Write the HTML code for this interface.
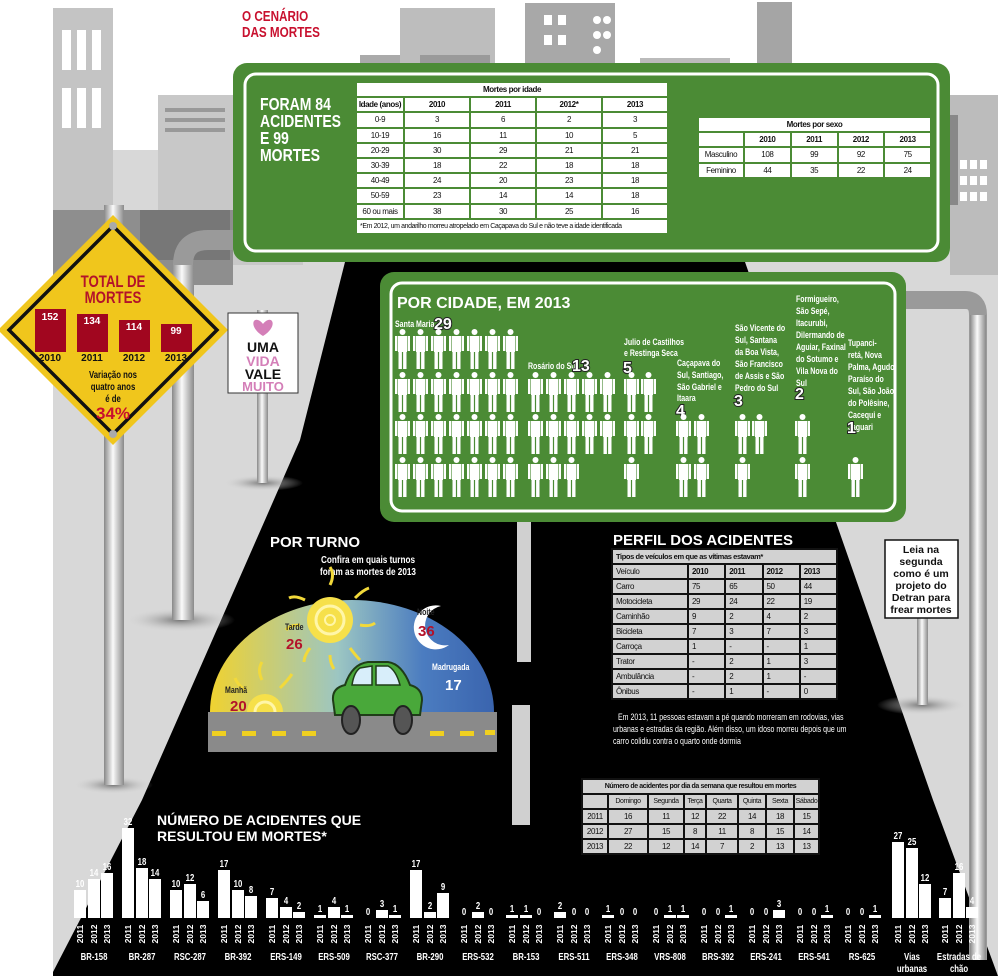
<!DOCTYPE html>
<html><head><meta charset="utf-8">
<style>
*{margin:0;padding:0;box-sizing:border-box}
body{width:1000px;height:976px;overflow:hidden;background:#fff;position:relative;font-family:"Liberation Sans",sans-serif}
svg{position:absolute;left:0;top:0}
.n text,text.n{transform-box:fill-box;transform-origin:left center;transform:scaleX(.78)}
.nc text,text.nc{transform-box:fill-box;transform-origin:center center;transform:scaleX(.78)}
.t{position:absolute;border-collapse:separate;table-layout:fixed;font-size:8px;letter-spacing:-0.4px;text-align:center;color:#111}
.t td{height:13px;line-height:11px;padding:0;overflow:hidden;white-space:nowrap}
.g{background:#4b8b35;border-spacing:2px}
.g td{background:#fff;height:13.2px}
.k{background:#111;border-spacing:2px}
.k td{background:#d2d2d2}
.b{font-weight:bold}
.L{text-align:left;padding-left:3px!important}
</style></head><body>
<svg width="1000" height="976" viewBox="0 0 1000 976" font-family="Liberation Sans, sans-serif">
<defs>
<linearGradient id="sky" x1="0" x2="1" y1="0" y2="0">
<stop offset="0" stop-color="#f0d230"/><stop offset="0.45" stop-color="#9cc6c2"/><stop offset="0.75" stop-color="#4b7cc0"/><stop offset="1" stop-color="#3a64ae"/></linearGradient>
<linearGradient id="pole" x1="0" x2="1"><stop offset="0" stop-color="#888"/><stop offset="0.45" stop-color="#fafafa"/><stop offset="1" stop-color="#8a8a8a"/></linearGradient>
<radialGradient id="sh"><stop offset="0" stop-color="#777"/><stop offset="1" stop-color="#d8d8d8" stop-opacity="0"/></radialGradient>
<g id="p" fill="#fff"><circle cx="7.5" cy="3" r="3"/><rect x="3" y="7" width="9" height="16"/><rect x="0" y="7" width="2.4" height="15"/><rect x="12.6" y="7" width="2.4" height="15"/><rect x="3.5" y="23" width="3.4" height="17"/><rect x="8.1" y="23" width="3.4" height="17"/></g>
</defs>
<rect x="53" y="150" width="945" height="826" fill="#d8d8d8"/>
<rect x="53" y="8" width="60" height="250" fill="#c4c4c4"/>
<g fill="#fff"><rect x="62" y="30" width="9" height="40"/><rect x="77" y="30" width="9" height="40"/><rect x="92" y="30" width="9" height="40"/><rect x="62" y="88" width="9" height="40"/><rect x="77" y="88" width="9" height="40"/><rect x="92" y="88" width="9" height="40"/></g>
<rect x="158" y="95" width="145" height="170" fill="#c8c8c8"/>
<g fill="#999"><rect x="165" y="108" width="60" height="4"/><rect x="165" y="118" width="60" height="4"/><rect x="165" y="128" width="60" height="4"/><rect x="248" y="108" width="50" height="4"/><rect x="248" y="118" width="50" height="4"/></g>
<rect x="53" y="210" width="180" height="75" fill="#8e8e8e"/>
<rect x="140" y="210" width="90" height="50" fill="#777"/>
<rect x="360" y="55" width="90" height="20" fill="#aaa"/>
<rect x="400" y="8" width="95" height="60" fill="#bdbdbd"/>
<rect x="420" y="55" width="70" height="15" fill="#9a9a9a"/>
<rect x="525" y="3" width="90" height="62" fill="#a8a8a8"/>
<g fill="#fff"><rect x="544" y="15" width="8" height="10"/><rect x="558" y="15" width="8" height="10"/><rect x="544" y="35" width="8" height="10"/><rect x="558" y="35" width="8" height="10"/><circle cx="597" cy="20" r="4"/><circle cx="607" cy="20" r="4"/><circle cx="597" cy="35" r="4"/><circle cx="607" cy="35" r="4"/><circle cx="597" cy="50" r="4"/></g>
<rect x="640" y="58" width="90" height="10" fill="#bbb"/>
<rect x="757" y="2" width="35" height="65" fill="#a5a5a5"/>
<rect x="810" y="95" width="60" height="10" fill="#c2c2c2"/>
<rect x="950" y="95" width="48" height="180" fill="#bcbcbc"/>
<rect x="940" y="115" width="18" height="90" fill="#888"/>
<g fill="#fff"><rect x="960" y="160" width="7" height="9"/><rect x="970" y="160" width="7" height="9"/><rect x="980" y="160" width="7" height="9"/><rect x="960" y="176" width="7" height="9"/><rect x="970" y="176" width="7" height="9"/><rect x="980" y="176" width="7" height="9"/><rect x="960" y="192" width="7" height="9"/><rect x="970" y="192" width="7" height="9"/><rect x="980" y="192" width="7" height="9"/></g>
<polygon points="345,262 745,262 837,525 933,800 998,976 53,976 53,972 142,800 265,520 300,440" fill="#000"/>
<rect x="517" y="522" width="14" height="140" fill="#d0d0d0"/>
<rect x="512" y="705" width="18" height="120" fill="#d0d0d0"/>
<ellipse cx="113" cy="785" rx="40" ry="9" fill="url(#sh)"/>
<rect x="104" y="205" width="20" height="580" fill="url(#pole)"/>
<ellipse cx="180" cy="620" rx="55" ry="12" fill="url(#sh)"/>
<path d="M183 620 V265 Q183 240 208 240 H240" fill="none" stroke="#9a9a9a" stroke-width="20"/>
<rect x="172" y="265" width="22" height="355" fill="url(#pole)"/>
<ellipse cx="263" cy="483" rx="40" ry="8" fill="url(#sh)"/>
<rect x="257" y="310" width="11" height="173" fill="url(#pole)"/>
<path d="M906 300 H965 Q978 300 978 315 V960" fill="none" stroke="#9a9a9a" stroke-width="18"/>
<rect x="970" y="315" width="16" height="645" fill="url(#pole)"/>
<ellipse cx="922" cy="705" rx="45" ry="10" fill="url(#sh)"/>
<rect x="917" y="540" width="11" height="165" fill="url(#pole)"/>
<rect x="233" y="63" width="717" height="199" rx="14" fill="#4b8b35"/>
<rect x="245" y="74" width="693" height="177" rx="11" fill="none" stroke="#fff" stroke-width="3"/>
<g class="n" fill="#fff" font-weight="bold" font-size="18"><text x="260" y="110">FORAM 84</text><text x="260" y="127">ACIDENTES</text><text x="260" y="144">E 99</text><text x="260" y="161">MORTES</text></g>
<rect x="380" y="272" width="526" height="250" rx="14" fill="#4b8b35"/>
<rect x="391" y="283" width="504" height="228" rx="11" fill="none" stroke="#fff" stroke-width="3"/>
<text x="397" y="308" fill="#fff" font-weight="bold" font-size="16">POR CIDADE, EM 2013</text>
<g class="n" fill="#fff" font-size="9" font-weight="bold">
<text x="395" y="327">Santa Maria</text>
<text x="528" y="369">Rosário do Sul</text>
<text x="624" y="345">Julio de Castilhos</text><text x="624" y="356">e Restinga Seca</text>
<text x="677" y="366">Caçapava do</text><text x="677" y="378">Sul, Santiago,</text><text x="677" y="390">São Gabriel e</text><text x="677" y="401">Itaara</text>
<text x="735" y="331">São Vicente do</text><text x="735" y="343">Sul, Santana</text><text x="735" y="355">da Boa Vista,</text><text x="735" y="367">São Francisco</text><text x="735" y="379">de Assis e São</text><text x="735" y="391">Pedro do Sul</text>
<text x="796" y="302">Formigueiro,</text><text x="796" y="314">São Sepé,</text><text x="796" y="326">Itacurubi,</text><text x="796" y="338">Dilermando de</text><text x="796" y="350">Aguiar, Faxinal</text><text x="796" y="362">do Sotumo e</text><text x="796" y="374">Vila Nova do</text><text x="796" y="386">Sul</text>
<text x="848" y="346">Tupanci-</text><text x="848" y="358">retá, Nova</text><text x="848" y="370">Palma, Agudo,</text><text x="848" y="382">Paraíso do</text><text x="848" y="394">Sul, São João</text><text x="848" y="406">do Polêsine,</text><text x="848" y="418">Cacequi e</text><text x="848" y="430">Jaguari</text>
</g>
<g fill="#fff" stroke="#222" stroke-width="2" paint-order="stroke" font-weight="bold" font-size="16">
<text x="434" y="329">29</text><text x="572" y="371">13</text><text x="623" y="373">5</text><text x="676" y="416">4</text><text x="734" y="406">3</text><text x="795" y="399">2</text><text x="847" y="433">1</text>
</g>
<g>
<use href="#p" x="395" y="329"/><use href="#p" x="413" y="329"/><use href="#p" x="431" y="329"/><use href="#p" x="449" y="329"/><use href="#p" x="467" y="329"/><use href="#p" x="485" y="329"/><use href="#p" x="503" y="329"/>
<use href="#p" x="395" y="372"/><use href="#p" x="413" y="372"/><use href="#p" x="431" y="372"/><use href="#p" x="449" y="372"/><use href="#p" x="467" y="372"/><use href="#p" x="485" y="372"/><use href="#p" x="503" y="372"/>
<use href="#p" x="395" y="414"/><use href="#p" x="413" y="414"/><use href="#p" x="431" y="414"/><use href="#p" x="449" y="414"/><use href="#p" x="467" y="414"/><use href="#p" x="485" y="414"/><use href="#p" x="503" y="414"/>
<use href="#p" x="395" y="457"/><use href="#p" x="413" y="457"/><use href="#p" x="431" y="457"/><use href="#p" x="449" y="457"/><use href="#p" x="467" y="457"/><use href="#p" x="485" y="457"/><use href="#p" x="503" y="457"/>
<use href="#p" x="528" y="372"/><use href="#p" x="546" y="372"/><use href="#p" x="564" y="372"/><use href="#p" x="582" y="372"/><use href="#p" x="600" y="372"/>
<use href="#p" x="528" y="414"/><use href="#p" x="546" y="414"/><use href="#p" x="564" y="414"/><use href="#p" x="582" y="414"/><use href="#p" x="600" y="414"/>
<use href="#p" x="528" y="457"/><use href="#p" x="546" y="457"/><use href="#p" x="564" y="457"/>
<use href="#p" x="624" y="372"/><use href="#p" x="641" y="372"/><use href="#p" x="624" y="414"/><use href="#p" x="641" y="414"/><use href="#p" x="624" y="457"/>
<use href="#p" x="676" y="414"/><use href="#p" x="694" y="414"/><use href="#p" x="676" y="457"/><use href="#p" x="694" y="457"/>
<use href="#p" x="735" y="414"/><use href="#p" x="752" y="414"/><use href="#p" x="735" y="457"/>
<use href="#p" x="795" y="414"/><use href="#p" x="795" y="457"/>
<use href="#p" x="848" y="457"/>
</g>
<g class="n" fill="#c8102e" font-weight="bold" font-size="15"><text x="242" y="21">O CENÁRIO</text><text x="242" y="37">DAS MORTES</text></g>
<polygon points="113,215 228,330 113,445 -2,330" fill="#f0c61c"/>
<polygon points="113,226 217,330 113,434 9,330" fill="none" stroke="#111" stroke-width="3.5"/>
<circle cx="113" cy="226" r="4" fill="#aaa"/><circle cx="113" cy="434" r="4" fill="#aaa"/>
<g class="nc" fill="#b3122a" font-weight="bold" font-size="17" text-anchor="middle"><text x="113" y="287">TOTAL DE</text><text x="113" y="303">MORTES</text></g>
<g fill="#a1061f"><rect x="35" y="309" width="31" height="43"/><rect x="77" y="314" width="31" height="38"/><rect x="119" y="320" width="31" height="32"/><rect x="161" y="324" width="31" height="28"/></g>
<g fill="#fff" font-size="10" font-weight="bold" text-anchor="middle"><text x="50" y="320">152</text><text x="92" y="324">134</text><text x="134" y="330">114</text><text x="176" y="334">99</text></g>
<g fill="#111" font-size="10" font-weight="bold" text-anchor="middle"><text x="50" y="361">2010</text><text x="92" y="361">2011</text><text x="134" y="361">2012</text><text x="176" y="361">2013</text></g>
<g class="nc" fill="#111" font-size="10" font-weight="bold" text-anchor="middle"><text x="113" y="378">Variação nos</text><text x="113" y="390">quatro anos</text><text x="113" y="402">é de</text></g>
<text x="113" y="419" text-anchor="middle" fill="#c8102e" font-weight="bold" font-size="17">34%</text>
<rect x="228" y="313" width="70" height="80" fill="#fff" stroke="#333" stroke-width="1"/>
<path d="M263 336 C250 328 252 318 258 320 C261 321 263 324 263 324 C263 324 265 321 268 320 C274 318 276 328 263 336Z" fill="#d47fb8"/>
<g font-weight="900" font-size="14" text-anchor="middle"><text x="263" y="352" fill="#111">UMA</text><text x="263" y="366" fill="#d47fb8">VIDA</text><text x="263" y="379" fill="#111">VALE</text><text x="263" y="391" fill="#d47fb8" font-size="13">MUITO</text></g>
<rect x="885" y="540" width="73" height="78" fill="#fff" stroke="#111" stroke-width="1.5"/>
<g font-weight="bold" font-size="10.5" text-anchor="middle" fill="#111"><text x="921" y="553">Leia na</text><text x="921" y="565">segunda</text><text x="921" y="577">como é um</text><text x="921" y="589">projeto do</text><text x="921" y="601">Detran para</text><text x="921" y="613">frear mortes</text></g>
<text x="270" y="547" fill="#fff" font-weight="bold" font-size="15">POR TURNO</text>
<g class="nc" fill="#fff" font-size="10.5" font-weight="bold" text-anchor="middle"><text x="368" y="563">Confira em quais turnos</text><text x="368" y="575">foram as mortes de 2013</text></g>
<path d="M210 712 A142 112 0 0 1 494 712 Z" fill="url(#sky)"/>
<g stroke="#f2d93a" stroke-width="3" fill="none"><path d="M330 585 q5 -10 0 -18"/><path d="M305 600 q-10 -5 -16 -2"/><path d="M355 598 q8 -8 14 -10"/><path d="M300 625 q-10 0 -14 5"/><path d="M360 625 q10 2 15 -2"/><path d="M310 648 q-6 8 -6 14"/><path d="M350 648 q6 8 10 12"/><path d="M330 655 q0 8 4 14"/></g>
<circle cx="330" cy="620" r="23" fill="#f6e04a"/><circle cx="330" cy="620" r="14" fill="none" stroke="#fff6a8" stroke-width="3"/><circle cx="330" cy="620" r="5" fill="none" stroke="#fff6a8" stroke-width="2"/>
<g stroke="#f2d93a" stroke-width="3" fill="none"><path d="M262 680 q-5 -10 0 -18"/><path d="M280 688 q8 -8 12 -14"/><path d="M245 690 q-8 -6 -10 -12"/></g>
<circle cx="265" cy="712" r="18" fill="#f6e04a"/><circle cx="265" cy="712" r="10" fill="none" stroke="#fff6a8" stroke-width="3"/>
<path d="M441 606 A22 22 0 1 0 449 645 A18 18 0 1 1 441 606Z" fill="#fff"/>
<path d="M485 680 A16 16 0 1 0 488 712 A13 13 0 1 1 485 680Z" fill="#fff"/>
<rect x="208" y="712" width="289" height="40" fill="#8a8a8a"/>
<g fill="#f0d020"><rect x="212" y="731" width="14" height="5"/><rect x="242" y="731" width="14" height="5"/><rect x="272" y="731" width="14" height="5"/><rect x="302" y="731" width="14" height="5"/><rect x="430" y="731" width="14" height="5"/><rect x="460" y="731" width="14" height="5"/><rect x="485" y="730" width="10" height="5"/></g>
<path d="M333 700 Q332 688 345 685 Q352 664 368 662 L388 662 Q402 664 410 685 Q422 688 422 700 L420 715 L335 715Z" fill="#49a83a" stroke="#1f3d18" stroke-width="2"/>
<path d="M360 668 L372 666 L372 685 L352 685 Q354 672 360 668Z" fill="#d8eefa" stroke="#1f3d18" stroke-width="1.5"/>
<path d="M376 666 L388 666 Q396 670 400 685 L376 685Z" fill="#d8eefa" stroke="#1f3d18" stroke-width="1.5"/>
<ellipse cx="351" cy="720" rx="9" ry="14" fill="#555" stroke="#222" stroke-width="2"/><ellipse cx="403" cy="720" rx="9" ry="14" fill="#555" stroke="#222" stroke-width="2"/>
<g font-weight="bold">
<text class="n" x="285" y="630" fill="#222" font-size="9">Tarde</text><text x="286" y="649" fill="#b3122a" font-size="15">26</text>
<text class="n" x="417" y="615" fill="#222" font-size="9">Noite</text><text x="418" y="636" fill="#b3122a" font-size="15">36</text>
<text class="n" x="432" y="670" fill="#fff" font-size="9">Madrugada</text><text x="445" y="690" fill="#fff" font-size="15">17</text>
<text class="n" x="225" y="693" fill="#222" font-size="9">Manhã</text><text x="230" y="711" fill="#b3122a" font-size="15">20</text>
</g>
<text x="613" y="545" fill="#fff" font-weight="bold" font-size="15">PERFIL DOS ACIDENTES</text>
<g class="n" fill="#fff" font-size="9"><text x="618" y="720">Em 2013, 11 pessoas estavam a pé quando morreram em rodovias, vias</text><text x="613" y="732">urbanas e estradas da região. Além disso, um idoso morreu depois que um</text><text x="613" y="744">carro colidiu contra o quarto onde dormia</text></g>
<text x="157" y="825" fill="#fff" font-weight="bold" font-size="14">NÚMERO DE ACIDENTES QUE</text>
<text x="157" y="841" fill="#fff" font-weight="bold" font-size="14">RESULTOU EM MORTES*</text>
<g fill="#fff">
<rect x="74" y="890" width="12" height="28"/><rect x="88" y="879" width="12" height="39"/><rect x="101" y="873" width="12" height="45"/>
<rect x="122" y="828" width="12" height="90"/><rect x="136" y="868" width="12" height="50"/><rect x="149" y="879" width="12" height="39"/>
<rect x="170" y="890" width="12" height="28"/><rect x="184" y="884" width="12" height="34"/><rect x="197" y="901" width="12" height="17"/>
<rect x="218" y="870" width="12" height="48"/><rect x="232" y="890" width="12" height="28"/><rect x="245" y="896" width="12" height="22"/>
<rect x="266" y="898" width="12" height="20"/><rect x="280" y="907" width="12" height="11"/><rect x="293" y="912" width="12" height="6"/>
<rect x="314" y="915" width="12" height="3"/><rect x="328" y="907" width="12" height="11"/><rect x="341" y="915" width="12" height="3"/>
<rect x="376" y="910" width="12" height="8"/><rect x="389" y="915" width="12" height="3"/>
<rect x="410" y="870" width="12" height="48"/><rect x="424" y="912" width="12" height="6"/><rect x="437" y="893" width="12" height="25"/>
<rect x="472" y="912" width="12" height="6"/>
<rect x="506" y="915" width="12" height="3"/><rect x="520" y="915" width="12" height="3"/>
<rect x="554" y="912" width="12" height="6"/>
<rect x="602" y="915" width="12" height="3"/>
<rect x="664" y="915" width="12" height="3"/><rect x="677" y="915" width="12" height="3"/>
<rect x="725" y="915" width="12" height="3"/>
<rect x="773" y="910" width="12" height="8"/>
<rect x="821" y="915" width="12" height="3"/>
<rect x="869" y="915" width="12" height="3"/>
<rect x="892" y="842" width="12" height="76"/><rect x="906" y="848" width="12" height="70"/><rect x="919" y="884" width="12" height="34"/>
<rect x="939" y="898" width="12" height="20"/><rect x="953" y="873" width="12" height="45"/><rect x="966" y="907" width="12" height="11"/>
</g>
<g class="nc" fill="#fff" font-size="10" font-weight="bold" text-anchor="middle">
<text x="80" y="887">10</text><text x="94" y="876">14</text><text x="107" y="870">16</text>
<text x="128" y="825">32</text><text x="142" y="865">18</text><text x="155" y="876">14</text>
<text x="176" y="887">10</text><text x="190" y="881">12</text><text x="203" y="898">6</text>
<text x="224" y="867">17</text><text x="238" y="887">10</text><text x="251" y="893">8</text>
<text x="272" y="895">7</text><text x="286" y="904">4</text><text x="299" y="909">2</text>
<text x="320" y="912">1</text><text x="334" y="904">4</text><text x="347" y="912">1</text>
<text x="368" y="915">0</text><text x="382" y="907">3</text><text x="395" y="912">1</text>
<text x="416" y="867">17</text><text x="430" y="909">2</text><text x="443" y="890">9</text>
<text x="464" y="915">0</text><text x="478" y="909">2</text><text x="491" y="915">0</text>
<text x="512" y="912">1</text><text x="526" y="912">1</text><text x="539" y="915">0</text>
<text x="560" y="909">2</text><text x="574" y="915">0</text><text x="587" y="915">0</text>
<text x="608" y="912">1</text><text x="622" y="915">0</text><text x="635" y="915">0</text>
<text x="656" y="915">0</text><text x="670" y="912">1</text><text x="683" y="912">1</text>
<text x="704" y="915">0</text><text x="718" y="915">0</text><text x="731" y="912">1</text>
<text x="752" y="915">0</text><text x="766" y="915">0</text><text x="779" y="907">3</text>
<text x="800" y="915">0</text><text x="814" y="915">0</text><text x="827" y="912">1</text>
<text x="848" y="915">0</text><text x="862" y="915">0</text><text x="875" y="912">1</text>
<text x="898" y="839">27</text><text x="912" y="845">25</text><text x="925" y="881">12</text>
<text x="945" y="895">7</text><text x="959" y="870">16</text><text x="972" y="904">4</text>
</g>
<g fill="#fff" font-size="8.5" font-weight="bold" text-anchor="middle">
<text transform="translate(83,934) rotate(-90)">2011</text><text transform="translate(97,934) rotate(-90)">2012</text><text transform="translate(110,934) rotate(-90)">2013</text>
<text transform="translate(131,934) rotate(-90)">2011</text><text transform="translate(145,934) rotate(-90)">2012</text><text transform="translate(158,934) rotate(-90)">2013</text>
<text transform="translate(179,934) rotate(-90)">2011</text><text transform="translate(193,934) rotate(-90)">2012</text><text transform="translate(206,934) rotate(-90)">2013</text>
<text transform="translate(227,934) rotate(-90)">2011</text><text transform="translate(241,934) rotate(-90)">2012</text><text transform="translate(254,934) rotate(-90)">2013</text>
<text transform="translate(275,934) rotate(-90)">2011</text><text transform="translate(289,934) rotate(-90)">2012</text><text transform="translate(302,934) rotate(-90)">2013</text>
<text transform="translate(323,934) rotate(-90)">2011</text><text transform="translate(337,934) rotate(-90)">2012</text><text transform="translate(350,934) rotate(-90)">2013</text>
<text transform="translate(371,934) rotate(-90)">2011</text><text transform="translate(385,934) rotate(-90)">2012</text><text transform="translate(398,934) rotate(-90)">2013</text>
<text transform="translate(419,934) rotate(-90)">2011</text><text transform="translate(433,934) rotate(-90)">2012</text><text transform="translate(446,934) rotate(-90)">2013</text>
<text transform="translate(467,934) rotate(-90)">2011</text><text transform="translate(481,934) rotate(-90)">2012</text><text transform="translate(494,934) rotate(-90)">2013</text>
<text transform="translate(515,934) rotate(-90)">2011</text><text transform="translate(529,934) rotate(-90)">2012</text><text transform="translate(542,934) rotate(-90)">2013</text>
<text transform="translate(563,934) rotate(-90)">2011</text><text transform="translate(577,934) rotate(-90)">2012</text><text transform="translate(590,934) rotate(-90)">2013</text>
<text transform="translate(611,934) rotate(-90)">2011</text><text transform="translate(625,934) rotate(-90)">2012</text><text transform="translate(638,934) rotate(-90)">2013</text>
<text transform="translate(659,934) rotate(-90)">2011</text><text transform="translate(673,934) rotate(-90)">2012</text><text transform="translate(686,934) rotate(-90)">2013</text>
<text transform="translate(707,934) rotate(-90)">2011</text><text transform="translate(721,934) rotate(-90)">2012</text><text transform="translate(734,934) rotate(-90)">2013</text>
<text transform="translate(755,934) rotate(-90)">2011</text><text transform="translate(769,934) rotate(-90)">2012</text><text transform="translate(782,934) rotate(-90)">2013</text>
<text transform="translate(803,934) rotate(-90)">2011</text><text transform="translate(817,934) rotate(-90)">2012</text><text transform="translate(830,934) rotate(-90)">2013</text>
<text transform="translate(851,934) rotate(-90)">2011</text><text transform="translate(865,934) rotate(-90)">2012</text><text transform="translate(878,934) rotate(-90)">2013</text>
<text transform="translate(901,934) rotate(-90)">2011</text><text transform="translate(915,934) rotate(-90)">2012</text><text transform="translate(928,934) rotate(-90)">2013</text>
<text transform="translate(948,934) rotate(-90)">2011</text><text transform="translate(962,934) rotate(-90)">2012</text><text transform="translate(975,934) rotate(-90)">2013</text>
</g>
<g class="nc" fill="#fff" font-size="10" font-weight="bold" text-anchor="middle">
<text x="94" y="960">BR-158</text><text x="142" y="960">BR-287</text><text x="190" y="960">RSC-287</text><text x="238" y="960">BR-392</text><text x="286" y="960">ERS-149</text><text x="334" y="960">ERS-509</text><text x="382" y="960">RSC-377</text><text x="430" y="960">BR-290</text><text x="478" y="960">ERS-532</text><text x="526" y="960">BR-153</text><text x="574" y="960">ERS-511</text><text x="622" y="960">ERS-348</text><text x="670" y="960">VRS-808</text><text x="718" y="960">BRS-392</text><text x="766" y="960">ERS-241</text><text x="814" y="960">ERS-541</text><text x="862" y="960">RS-625</text>
<text x="912" y="960">Vias</text><text x="912" y="972">urbanas</text><text x="959" y="960">Estradas de</text><text x="959" y="972">chão</text>
</g>
</svg>

<table class="t g" style="left:355px;top:81px;width:314px">
<colgroup><col style="width:46px"><col><col><col><col></colgroup>
<tr><td colspan="5" class="b">Mortes por idade</td></tr>
<tr class="b"><td>Idade (anos)</td><td>2010</td><td>2011</td><td>2012*</td><td>2013</td></tr>
<tr><td>0-9</td><td>3</td><td>6</td><td>2</td><td>3</td></tr>
<tr><td>10-19</td><td>16</td><td>11</td><td>10</td><td>5</td></tr>
<tr><td>20-29</td><td>30</td><td>29</td><td>21</td><td>21</td></tr>
<tr><td>30-39</td><td>18</td><td>22</td><td>18</td><td>18</td></tr>
<tr><td>40-49</td><td>24</td><td>20</td><td>23</td><td>18</td></tr>
<tr><td>50-59</td><td>23</td><td>14</td><td>14</td><td>18</td></tr>
<tr><td>60 ou mais</td><td>38</td><td>30</td><td>25</td><td>16</td></tr>
<tr><td colspan="5" class="L" style="font-size:7px">*Em 2012, um andarilho morreu atropelado em Caçapava do Sul e não teve a idade identificada</td></tr>
</table>
<table class="t g" style="left:697px;top:116px;width:235px">
<colgroup><col style="width:44px"><col><col><col><col></colgroup>
<tr><td colspan="5" class="b">Mortes por sexo</td></tr>
<tr class="b"><td></td><td>2010</td><td>2011</td><td>2012</td><td>2013</td></tr>
<tr><td>Masculino</td><td>108</td><td>99</td><td>92</td><td>75</td></tr>
<tr><td>Feminino</td><td>44</td><td>35</td><td>22</td><td>24</td></tr>
</table>
<table class="t k" style="left:611px;top:548px;width:227px;text-align:left">
<colgroup><col style="width:74px"><col><col><col><col></colgroup>
<tr><td colspan="5" class="b L" style="font-size:7.5px">Tipos de veículos em que as vítimas estavam*</td></tr>
<tr><td class="L">Veículo</td><td class="b L">2010</td><td class="b L">2011</td><td class="b L">2012</td><td class="b L">2013</td></tr>
<tr><td class="L">Carro</td><td class="L">75</td><td class="L">65</td><td class="L">50</td><td class="L">44</td></tr>
<tr><td class="L">Motocicleta</td><td class="L">29</td><td class="L">24</td><td class="L">22</td><td class="L">19</td></tr>
<tr><td class="L">Caminhão</td><td class="L">9</td><td class="L">2</td><td class="L">4</td><td class="L">2</td></tr>
<tr><td class="L">Bicicleta</td><td class="L">7</td><td class="L">3</td><td class="L">7</td><td class="L">3</td></tr>
<tr><td class="L">Carroça</td><td class="L">1</td><td class="L">-</td><td class="L">-</td><td class="L">1</td></tr>
<tr><td class="L">Trator</td><td class="L">-</td><td class="L">2</td><td class="L">1</td><td class="L">3</td></tr>
<tr><td class="L">Ambulância</td><td class="L">-</td><td class="L">2</td><td class="L">1</td><td class="L">-</td></tr>
<tr><td class="L">Ônibus</td><td class="L">-</td><td class="L">1</td><td class="L">-</td><td class="L">0</td></tr>
</table>
<table class="t k" style="left:581px;top:778px;width:239px">
<colgroup><col style="width:24px"><col style="width:38px"><col style="width:34px"><col style="width:20px"><col style="width:30px"><col style="width:26px"><col style="width:26px"><col></colgroup>
<tr><td colspan="8" class="b" style="font-size:7px">Número de acidentes por dia da semana que resultou em mortes</td></tr>
<tr style="font-size:7px"><td></td><td>Domingo</td><td>Segunda</td><td>Terça</td><td>Quarta</td><td>Quinta</td><td>Sexta</td><td>Sábado</td></tr>
<tr><td>2011</td><td>16</td><td>11</td><td>12</td><td>22</td><td>14</td><td>18</td><td>15</td></tr>
<tr><td>2012</td><td>27</td><td>15</td><td>8</td><td>11</td><td>8</td><td>15</td><td>14</td></tr>
<tr><td>2013</td><td>22</td><td>12</td><td>14</td><td>7</td><td>2</td><td>13</td><td>13</td></tr>
</table>
</body></html>
